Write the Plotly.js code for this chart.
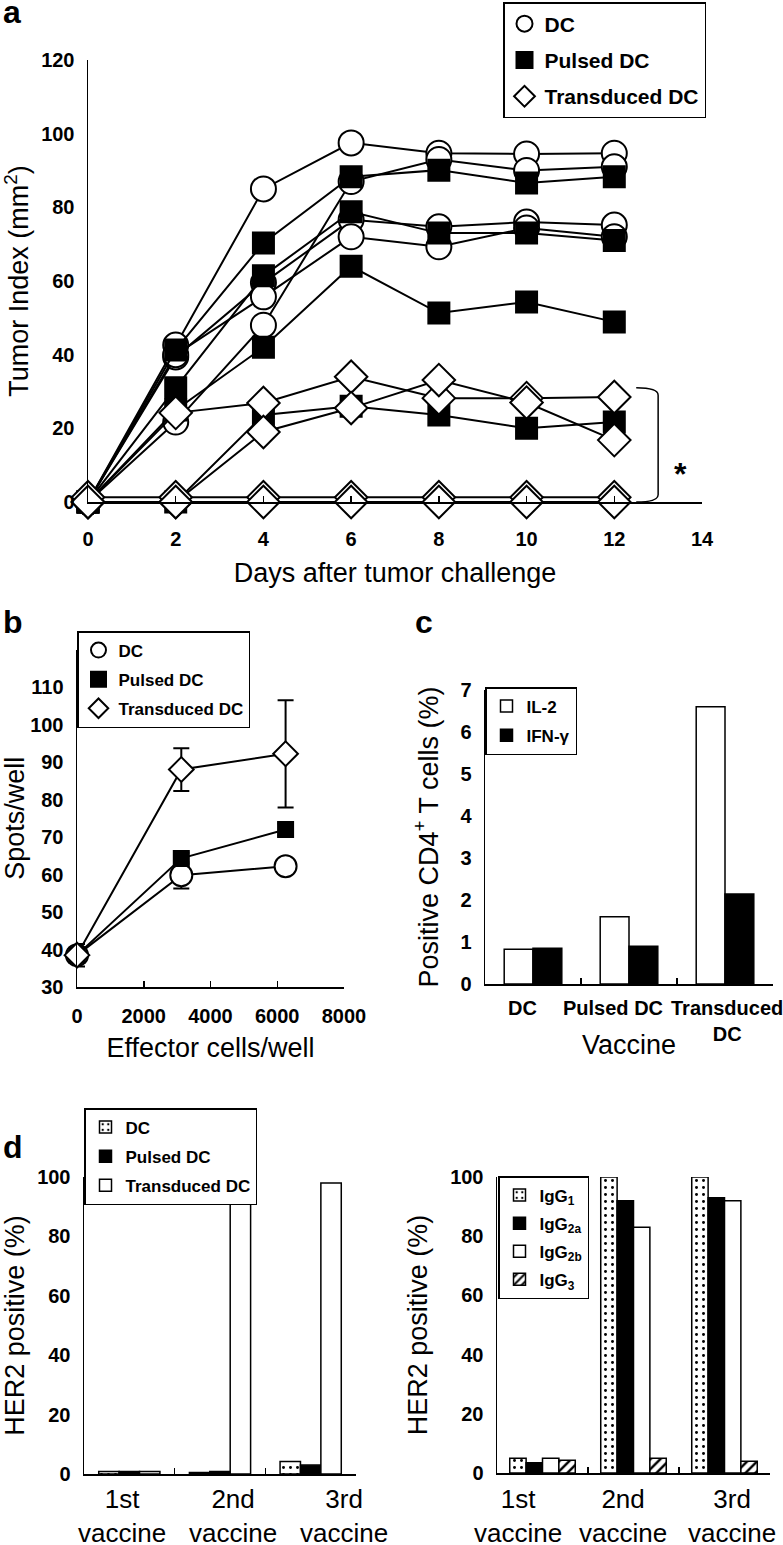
<!DOCTYPE html>
<html><head><meta charset="utf-8">
<script src="https://cdn.plot.ly/plotly-3.0.1.min.js"></script>
<style>html,body{margin:0;padding:0;background:#fff}#chart{width:783px;height:1545px}</style>
</head><body><div id="chart"></div>
<script>
// ---------- Panel a: tumor index per mouse ----------
const days = [0, 2, 4, 6, 8, 10, 12];
const dcMouse1 = [0, 42.6, 85, 97.5, 94.7, 94.5, 94.7];
const dcMouse2 = [0, 21.7, 48, 87, 93, 90, 91];
const dcMouse3 = [0, 39.4, 59.5, 76.6, 74.7, 76, 75.2];
const dcMouse4 = [0, 40, 55.7, 72, 69.3, 74.4, 72];
const pulsedMouse1 = [0, 41.3, 70.3, 88.3, 90.1, 86.6, 88.3];
const pulsedMouse2 = [0, 31, 61.4, 78.8, 73, 73, 71];
const pulsedMouse3 = [0, 25, 42, 64, 51.3, 54.3, 48.9];
const pulsedMouse4 = [0, 0, 23.6, 26, 23.6, 20, 21.7];
const transMouse1 = [0, 24.2, 26.9, 34, 28.2, 28.2, 28.5];
const transMouse2 = [0, 0, 19, 25.5, 33.1, 27, 16.8];
const transMouse3 = [1.3, 1.3, 1.3, 1.3, 1.3, 1.3, 1.3];
const transMouse4 = [0, 0, 0, 0, 0, 0, 0];
const groupNames = ['DC', 'Pulsed DC', 'Transduced DC'];
const dayTicks = [0, 2, 4, 6, 8, 10, 12, 14];
const tumorTicks = [0, 20, 40, 60, 80, 100, 120];

// ---------- Panel b: ELISPOT ----------
const effectorCells = [0, 3125, 6250];
const spotsDC = [38.5, 59.8, 62.2];
const errDC = [3, 3.5, 1];
const spotsPulsed = [38.5, 64.3, 72];
const errPulsed = [1, 1.5, 1.6];
const spotsTrans = [38.5, 88, 92.2];
const errTrans = [1, 5.7, 14.3];
const effectorTicks = [0, 2000, 4000, 6000, 8000];
const spotTicks = [30, 40, 50, 60, 70, 80, 90, 100, 110];

// ---------- Panel c: intracellular cytokines ----------
const vaccines = ['DC', 'Pulsed DC', 'Transduced<br>DC'];
const il2 = [0.83, 1.6, 6.6];
const ifng = [0.85, 0.9, 2.14];
const cd4Ticks = [0, 1, 2, 3, 4, 5, 6, 7];

// ---------- Panel d: HER2 antibodies ----------
const vaccineRounds = ['1st<br>vaccine', '2nd<br>vaccine', '3rd<br>vaccine'];
const her2DC = [0.8, 0.5, 4.2];
const her2Pulsed = [0.8, 0.8, 3];
const her2Trans = [0.8, 91, 98];
const igg1 = [5, 100, 100];
const igg2a = [3.5, 92, 93];
const igg2b = [5, 83, 92];
const igg3 = [4.3, 5, 4];
const her2Ticks = [0, 20, 40, 60, 80, 100];

// ---------- helpers ----------
const FONT = 'Liberation Sans, Arial, Helvetica, sans-serif';
const W = 783, H = 1545;
const px = v => v / W;
const py = v => 1 - v / H;
const tickFont = {family: FONT, size: 20, color: '#000', weight: 'bold'};
const titleFont = {family: FONT, size: 27, color: '#000'};

function axis(extra) {
  return Object.assign({
    showline: true, linecolor: '#000', linewidth: 1.5, showgrid: false, zeroline: false,
    tickfont: tickFont, ticks: '', fixedrange: true, automargin: false, tickangle: 0
  }, extra);
}

const traces = [];

// panel a lines
const aGroups = [
  {name: groupNames[0], mice: [dcMouse1, dcMouse2, dcMouse3, dcMouse4], symbol: 'circle', size: 25, fill: '#fff'},
  {name: groupNames[1], mice: [pulsedMouse1, pulsedMouse2, pulsedMouse3, pulsedMouse4], symbol: 'square', size: 21, fill: '#000'},
  {name: groupNames[2], mice: [transMouse1, transMouse2, transMouse3, transMouse4], symbol: 'diamond', size: 25, fill: '#fff'}
];
aGroups.forEach(g => {
  g.mice.forEach(m => {
    traces.push({
      type: 'scatter', mode: 'lines+markers', x: days, y: m, xaxis: 'x', yaxis: 'y',
      showlegend: false, cliponaxis: false,
      line: {color: '#000', width: 2},
      marker: {symbol: g.symbol, size: g.size, color: g.fill, line: {color: '#000', width: 2}}
    });
  });
});
aGroups.forEach(g => {
  traces.push({
    type: 'scatter', mode: 'markers', x: [null], y: [null], xaxis: 'x', yaxis: 'y',
    name: g.name, legend: 'legend', legendgroup: 'a' + g.name, showlegend: true,
    marker: {symbol: g.symbol, size: 16, color: g.fill, line: {color: '#000', width: 2}}
  });
});

// panel b
const bSeries = [
  {name: groupNames[0], y: spotsDC, err: errDC, symbol: 'circle', size: 22, fill: '#fff'},
  {name: groupNames[1], y: spotsPulsed, err: errPulsed, symbol: 'square', size: 15, fill: '#000'},
  {name: groupNames[2], y: spotsTrans, err: errTrans, symbol: 'diamond', size: 19, fill: '#fff'}
];
bSeries.forEach(s => {
  traces.push({
    type: 'scatter', mode: 'lines+markers', x: effectorCells, y: s.y, xaxis: 'x2', yaxis: 'y2',
    showlegend: false, cliponaxis: false,
    line: {color: '#000', width: 2},
    marker: {symbol: s.symbol, size: s.size, color: s.fill, line: {color: '#000', width: 2}},
    error_y: {type: 'data', array: s.err, visible: true, color: '#000', thickness: 2, width: 8}
  });
});
bSeries.forEach(s => {
  traces.push({
    type: 'scatter', mode: 'markers', x: [null], y: [null], xaxis: 'x2', yaxis: 'y2',
    name: s.name, legend: 'legend2', legendgroup: 'b' + s.name, showlegend: true,
    marker: {symbol: s.symbol, size: 15, color: s.fill, line: {color: '#000', width: 2}}
  });
});

// panel c
const cBars = [
  {name: 'IL-2', y: il2, fill: '#fff', offset: -0.3},
  {name: 'IFN-γ', y: ifng, fill: '#000', offset: 0}
];
cBars.forEach(b => {
  traces.push({
    type: 'bar', x: vaccines, y: b.y, xaxis: 'x3', yaxis: 'y3', name: b.name,
    legend: 'legend3', legendgroup: 'c' + b.name,
    width: 0.3, offset: b.offset,
    marker: {color: b.fill, line: {color: '#000', width: 1.5}}
  });
});

// panel d left
const dotPattern = {shape: '.', fgcolor: '#000', bgcolor: '#fff', size: 7, solidity: 0.14, fillmode: 'replace'};
const hatchPattern = {shape: '/', fgcolor: '#000', bgcolor: '#fff', size: 7, solidity: 0.35, fillmode: 'replace'};
const dLeft = [
  {name: groupNames[0], y: her2DC, fill: '#fff', pattern: dotPattern, offset: -0.3375},
  {name: groupNames[1], y: her2Pulsed, fill: '#000', pattern: null, offset: -0.1125},
  {name: groupNames[2], y: her2Trans, fill: '#fff', pattern: null, offset: 0.1125}
];
dLeft.forEach(b => {
  const mk = {color: b.fill, line: {color: '#000', width: 1.5}};
  if (b.pattern) mk.pattern = b.pattern;
  traces.push({
    type: 'bar', x: vaccineRounds, y: b.y, xaxis: 'x4', yaxis: 'y4', name: b.name,
    legend: 'legend4', legendgroup: 'd' + b.name, width: 0.225, offset: b.offset, marker: mk
  });
});

// panel d right
const dRight = [
  {name: 'IgG<sub>1</sub>', y: igg1, fill: '#fff', pattern: dotPattern, offset: -0.36},
  {name: 'IgG<sub>2a</sub>', y: igg2a, fill: '#000', pattern: null, offset: -0.18},
  {name: 'IgG<sub>2b</sub>', y: igg2b, fill: '#fff', pattern: null, offset: 0},
  {name: 'IgG<sub>3</sub>', y: igg3, fill: '#fff', pattern: hatchPattern, offset: 0.18}
];
dRight.forEach((b, i) => {
  const mk = {color: b.fill, line: {color: '#000', width: 1.5}};
  if (b.pattern) mk.pattern = b.pattern;
  traces.push({
    type: 'bar', x: vaccineRounds, y: b.y, xaxis: 'x5', yaxis: 'y5', name: b.name,
    legend: 'legend5', legendgroup: 'e' + i, width: 0.18, offset: b.offset, marker: mk
  });
});

function legendBox(x, y, size, gap) {
  return {
    x: x, y: y, xanchor: 'left', yanchor: 'top', bgcolor: '#fff', bordercolor: '#000', borderwidth: 1.5,
    font: {family: FONT, size: size, color: '#000', weight: 'bold'}, tracegroupgap: gap,
    itemclick: false, itemdoubleclick: false
  };
}

const annotations = [];
// panel letters
[['a', 1, 12], ['b', 1, 622], ['c', 413, 622], ['d', 1, 1147]].forEach(l => {
  annotations.push({text: l[0], xref: 'paper', yref: 'paper', x: px(l[1]), y: py(l[2]),
    xanchor: 'left', yanchor: 'middle', showarrow: false,
    font: {family: FONT, size: 32, color: '#000', weight: 'bold'}});
});
// significance marker
annotations.push({text: '*', xref: 'x', yref: 'y', x: 13.52, y: 7.6, showarrow: false,
  font: {family: FONT, size: 32, color: '#000', weight: 'bold'}});
// panel c category labels (placed as in the original figure)
const cLabelX = [522, 613, 727];
vaccines.forEach((t, i) => {
  annotations.push({text: t, xref: 'paper', yref: 'paper', x: px(cLabelX[i]), y: py(995),
    xanchor: 'center', yanchor: 'top', showarrow: false,
    font: {family: FONT, size: 20, color: '#000', weight: 'bold'}});
});
// panel d category labels
const dLabelLeft = [122, 233, 344];
const dLabelRight = [518, 623, 732];
vaccineRounds.forEach((t, i) => {
  [dLabelLeft[i], dLabelRight[i]].forEach(xp => {
    annotations.push({text: t, xref: 'paper', yref: 'paper', x: px(xp), y: py(1516),
      xanchor: 'center', yanchor: 'middle', showarrow: false,
      font: {family: FONT, size: 26, color: '#000'}});
  });
});

const layout = {
  width: W, height: H, margin: {l: 0, r: 0, t: 0, b: 0},
  paper_bgcolor: '#fff', plot_bgcolor: 'rgba(0,0,0,0)',
  font: {family: FONT, color: '#000'},
  barmode: 'overlay',
  // panel a
  xaxis: axis({domain: [px(88), px(702)], range: [0, 14], tickvals: dayTicks, ticks: 'inside', ticklen: 6, tickwidth: 1.5,
    tickcolor: '#000', ticklabelstandoff: 18, anchor: 'y',
    title: {text: 'Days after tumor challenge', font: titleFont, standoff: 14}}),
  yaxis: axis({domain: [py(502), py(60)], range: [0, 120], tickvals: tumorTicks, anchor: 'x', ticklabelstandoff: 8,
    title: {text: 'Tumor Index (mm<sup>2</sup>)', font: titleFont, standoff: 14}}),
  // panel b
  xaxis2: axis({domain: [px(77), px(344)], range: [0, 8000], tickvals: effectorTicks, ticks: 'inside', ticklen: 6, tickwidth: 1.5,
    tickcolor: '#000', ticklabelstandoff: 10, anchor: 'y2',
    title: {text: 'Effector cells/well', font: titleFont, standoff: 12}}),
  yaxis2: axis({domain: [py(987), py(649.5)], range: [30, 120], tickvals: spotTicks, anchor: 'x2', ticklabelstandoff: 8,
    title: {text: 'Spots/well', font: titleFont, standoff: 12}}),
  // panel c
  xaxis3: axis({domain: [px(485), px(773)], range: [-0.5, 2.5], type: 'category', ticks: 'inside', tickson: 'boundaries',
    ticklen: 6, tickwidth: 1.5, tickcolor: '#000', showticklabels: false, anchor: 'y3',
    title: {text: 'Vaccine', font: titleFont, standoff: 50}}),
  yaxis3: axis({domain: [py(984), py(690)], range: [0, 7], tickvals: cd4Ticks, anchor: 'x3', ticklabelstandoff: 8,
    title: {text: 'Positive CD4<sup>+</sup> T cells (%)', font: titleFont, standoff: 14}}),
  // panel d left
  xaxis4: axis({domain: [px(84), px(356)], range: [-0.5, 2.5], type: 'category', ticks: 'inside', tickson: 'boundaries',
    ticklen: 6, tickwidth: 1.5, tickcolor: '#000', showticklabels: false, anchor: 'y4'}),
  yaxis4: axis({domain: [py(1474), py(1177)], range: [0, 100], tickvals: her2Ticks, anchor: 'x4', ticklabelstandoff: 8,
    title: {text: 'HER2 positive (%)', font: titleFont, standoff: 14}}),
  // panel d right
  xaxis5: axis({domain: [px(497), px(770)], range: [-0.5, 2.5], type: 'category', ticks: 'inside', tickson: 'boundaries',
    ticklen: 6, tickwidth: 1.5, tickcolor: '#000', showticklabels: false, anchor: 'y5'}),
  yaxis5: axis({domain: [py(1473), py(1177)], range: [0, 100], tickvals: her2Ticks, anchor: 'x5', ticklabelstandoff: 8,
    title: {text: 'HER2 positive (%)', font: titleFont, standoff: 14}}),
  legend: legendBox(px(503), py(2), 21, 6),
  legend2: legendBox(px(77), py(631), 17, 4),
  legend3: legendBox(px(485), py(687), 17, 4),
  legend4: legendBox(px(84), py(1108), 17, 4),
  legend5: legendBox(px(498), py(1176), 17, 3),
  shapes: [{
    type: 'path', xref: 'x', yref: 'y',
    path: 'M 12.5 31 Q 13 31 13 29 L 13 2 Q 13 0 12.5 0',
    line: {color: '#000', width: 1.5}
  }],
  annotations: annotations
};

Plotly.newPlot('chart', traces, layout, {staticPlot: true, displayModeBar: false});
</script>
</body></html>
